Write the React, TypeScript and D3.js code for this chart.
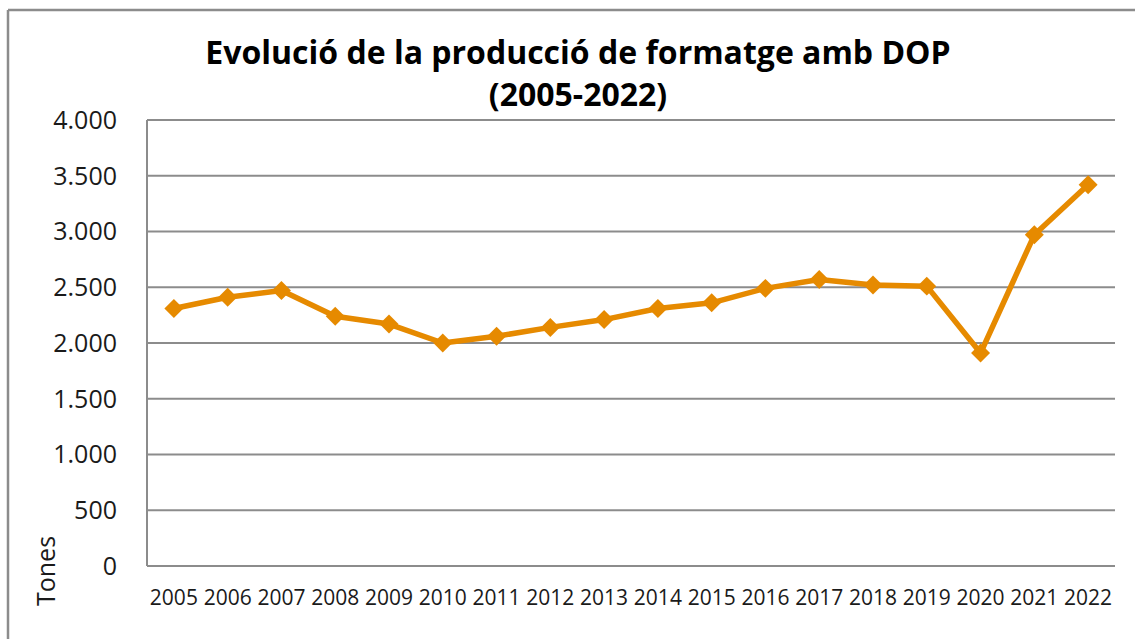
import React, { useEffect, useRef } from 'react';
import * as d3 from 'd3';

const years = ['2005', '2006', '2007', '2008', '2009', '2010', '2011', '2012', '2013', '2014', '2015', '2016', '2017', '2018', '2019', '2020', '2021', '2022'];
const tones = [2310, 2410, 2470, 2240, 2170, 2000, 2060, 2140, 2210, 2310, 2360, 2490, 2570, 2520, 2510, 1910, 2970, 3420];
const yTicks = [0, 500, 1000, 1500, 2000, 2500, 3000, 3500, 4000];
const titleLines = ['Evolució de la producció de formatge amb DOP', '(2005-2022)'];
const yLabel = 'Tones';

const W = 1135;
const H = 639;
const ORANGE = '#E68A00';
const GRID = '#8c8c8c';
const FONT = '"Open Sans", "Noto Sans", sans-serif';

const App = () => {
  const svgRef = useRef<SVGSVGElement>(null);

  useEffect(() => {
    const svg = d3.select(svgRef.current);
    svg.selectAll('*').remove();

    const margin = { top: 120, right: 20, bottom: 73, left: 147 };
    const width = 1115 - margin.left;
    const height = 566 - margin.top;

    // outer frame (top and left edges visible)
    svg.append('line').attr('x1', 8).attr('x2', W).attr('y1', 10).attr('y2', 10)
      .attr('stroke', GRID).attr('stroke-width', 2.5);
    svg.append('line').attr('x1', 8).attr('x2', 8).attr('y1', 10).attr('y2', H)
      .attr('stroke', GRID).attr('stroke-width', 2.5);

    const g = svg.append('g').attr('transform', `translate(${margin.left},${margin.top})`);

    const x = d3.scaleBand().domain(years).range([0, width]);
    const y = d3.scaleLinear().domain([0, 4000]).range([height, 0]);

    // gridlines
    g.selectAll('line.grid')
      .data(yTicks)
      .enter()
      .append('line')
      .attr('class', 'grid')
      .attr('x1', 0)
      .attr('x2', width)
      .attr('y1', (d) => y(d))
      .attr('y2', (d) => y(d))
      .attr('stroke', GRID)
      .attr('stroke-width', 2);

    g.append('line').attr('x1', 0).attr('x2', 0).attr('y1', 0).attr('y2', height)
      .attr('stroke', GRID).attr('stroke-width', 2);

    // y tick labels
    g.selectAll('text.ytick')
      .data(yTicks)
      .enter()
      .append('text')
      .attr('class', 'ytick')
      .attr('x', -30)
      .attr('y', (d) => y(d))
      .attr('dy', '0.35em')
      .attr('text-anchor', 'end')
      .attr('font-family', FONT)
      .attr('font-size', 25)
      .attr('fill', '#1a1a1a')
      .text((d) => d3.format(',')(d).replace(/,/g, '.'));

    // x tick labels
    g.selectAll('text.xtick')
      .data(years)
      .enter()
      .append('text')
      .attr('class', 'xtick')
      .attr('x', (d) => (x(d) as number) + x.bandwidth() / 2)
      .attr('y', height + 39)
      .attr('text-anchor', 'middle')
      .attr('font-family', FONT)
      .attr('font-size', 21)
      .attr('fill', '#1a1a1a')
      .text((d) => d);

    const data = years.map((yr, i) => ({ yr, v: tones[i] }));

    const line = d3
      .line<{ yr: string; v: number }>()
      .x((d) => (x(d.yr) as number) + x.bandwidth() / 2)
      .y((d) => y(d.v));

    g.append('path')
      .datum(data)
      .attr('d', line)
      .attr('fill', 'none')
      .attr('stroke', ORANGE)
      .attr('stroke-width', 5.5)
      .attr('stroke-linejoin', 'round');

    const diamond = d3.symbol().type(d3.symbolSquare).size(180);
    g.selectAll('path.marker')
      .data(data)
      .enter()
      .append('path')
      .attr('class', 'marker')
      .attr('d', diamond)
      .attr('transform', (d) => `translate(${(x(d.yr) as number) + x.bandwidth() / 2},${y(d.v)}) rotate(45)`)
      .attr('fill', ORANGE);

    // title
    svg.selectAll('text.title')
      .data(titleLines)
      .enter()
      .append('text')
      .attr('class', 'title')
      .attr('x', 578)
      .attr('y', (d, i) => 64 + i * 42)
      .attr('text-anchor', 'middle')
      .attr('font-family', FONT)
      .attr('font-weight', 'bold')
      .attr('font-size', 32)
      .attr('fill', '#000')
      .text((d) => d);

    svg.append('text')
      .attr('transform', 'translate(55,571) rotate(-90)')
      .attr('text-anchor', 'middle')
      .attr('font-family', FONT)
      .attr('font-size', 25)
      .attr('fill', '#1a1a1a')
      .text(yLabel);
  }, []);

  return (
    <svg
      ref={svgRef}
      width={W}
      height={H}
      style={{ position: 'absolute', left: 0, top: 0, background: '#fff' }}
    ></svg>
  );
};

export default App;
